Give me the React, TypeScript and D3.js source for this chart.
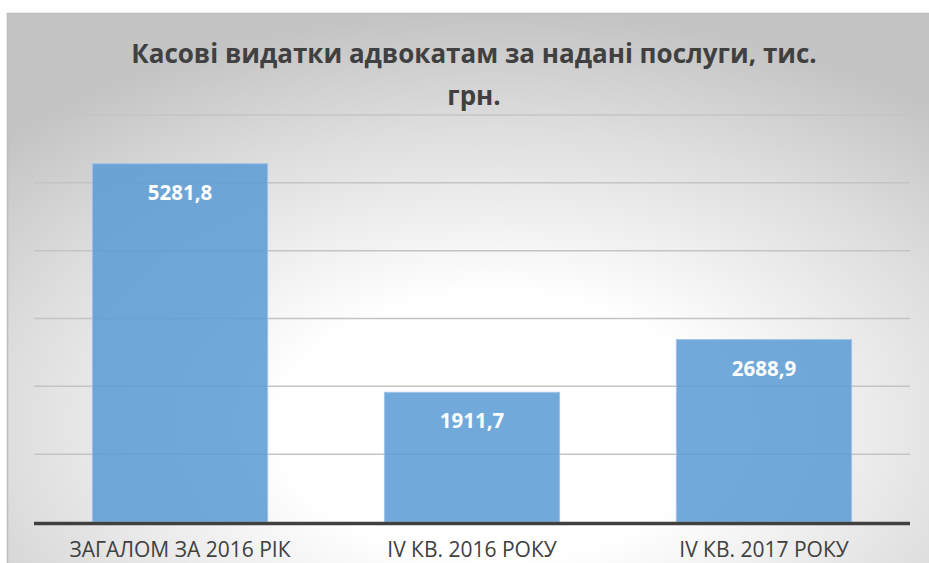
import { useMemo } from "react";
import * as d3 from "d3";

const WIDTH = 929;
const HEIGHT = 563;

const categories = ["ЗАГАЛОМ ЗА 2016 РІК", "IV КВ. 2016 РОКУ", "IV КВ. 2017 РОКУ"];
const values = [5281.8, 1911.7, 2688.9];
const valueLabels = ["5281,8", "1911,7", "2688,9"];
const yTicks = [0, 1000, 2000, 3000, 4000, 5000, 6000];
const titleLines = ["Касові видатки адвокатам за надані послуги, тис.", "грн."];

const FONT = "'Open Sans', 'DejaVu Sans', sans-serif";

export default function App() {
   const x = useMemo(
      () => d3.scaleBand<string>().domain(categories).range([34, 910]).paddingInner(0.4).paddingOuter(0.2),
      []
   );
   const y = useMemo(() => d3.scaleLinear().domain([0, 6000]).range([522, 115]), []);

   return (
      <div style={{ position: "absolute", left: 0, top: 0 }}>
         <svg width={WIDTH} height={HEIGHT} style={{ display: "block" }}>
            <defs>
               <radialGradient id="bg" cx="52%" cy="72%" r="72%" fx="52%" fy="72%">
                  <stop offset="0%" stopColor="#ffffff" />
                  <stop offset="32%" stopColor="#ffffff" />
                  <stop offset="72%" stopColor="#dedede" />
                  <stop offset="100%" stopColor="#c4c4c4" />
               </radialGradient>
            </defs>
            <rect width={WIDTH} height={HEIGHT} fill="#ffffff" />
            <rect x={7.5} y={13.5} width={WIDTH + 10} height={HEIGHT + 10} fill="url(#bg)" stroke="#bcbcbc" strokeWidth={1.5} />

            {titleLines.map((t, i) => (
               <text
                  key={i}
                  x={474}
                  y={63 + i * 42}
                  textAnchor="middle"
                  fontFamily={FONT}
                  fontWeight="bold"
                  fontSize={26}
                  fill="#404040"
               >
                  {t}
               </text>
            ))}

            {yTicks.slice(1).map((t) => (
               <line key={t} x1={34} x2={910} y1={y(t)} y2={y(t)} stroke="#c4c4c4" strokeWidth={1.5} />
            ))}

            {values.map((v, i) => (
               <rect
                  key={i}
                  x={x(categories[i])}
                  y={y(v)}
                  width={x.bandwidth()}
                  height={y(0) - y(v)}
                  fill="#5b9bd5"
                  fillOpacity={0.86}
                  stroke="#9cc3e8"
                  strokeWidth={1}
               />
            ))}

            {values.map((v, i) => (
               <text
                  key={i}
                  x={(x(categories[i]) ?? 0) + x.bandwidth() / 2}
                  y={y(v) + 36}
                  textAnchor="middle"
                  fontFamily={FONT}
                  fontWeight="bold"
                  fontSize={20.5}
                  fill="#ffffff"
               >
                  {valueLabels[i]}
               </text>
            ))}

            <line x1={34} x2={910} y1={y(0) + 1.5} y2={y(0) + 1.5} stroke="#404040" strokeWidth={3.5} />

            {categories.map((c) => (
               <text
                  key={c}
                  x={(x(c) ?? 0) + x.bandwidth() / 2}
                  y={557}
                  textAnchor="middle"
                  fontFamily={FONT}
                  fontSize={21}
                  fill="#404040"
               >
                  {c}
               </text>
            ))}
         </svg>
      </div>
   );
}
